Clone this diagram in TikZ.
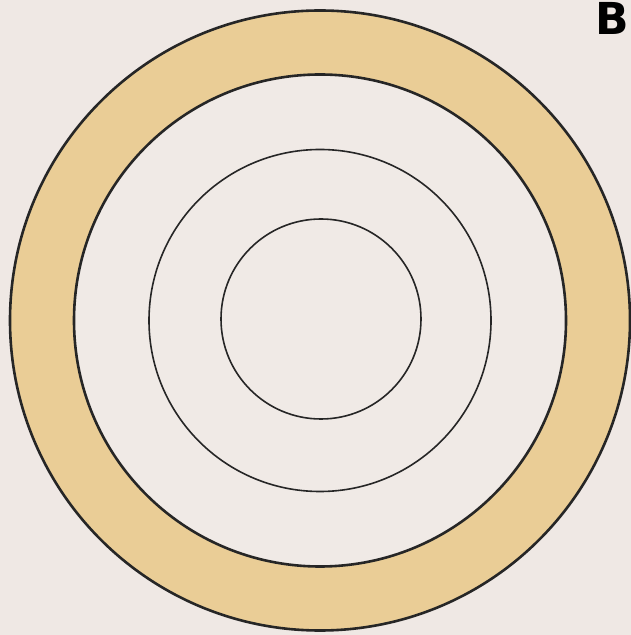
\documentclass[tikz,border=0pt]{standalone}
\usepackage{fontspec}
\setmainfont{DejaVu Sans}
\definecolor{bg}{RGB}{239,232,228}
\definecolor{tan}{RGB}{234,205,150}
\definecolor{inner}{RGB}{240,234,230}
\begin{document}
\begin{tikzpicture}[x=1pt,y=1pt,
  ring/.style={draw=black!85,line width=2.6pt},
  thin/.style={draw=black!85,line width=1.6pt}]
\fill[bg] (0,0) rectangle (631,635);
\useasboundingbox (0,0) rectangle (631,635);
\coordinate (c) at (320,314.5);
\fill[tan,ring] (c) circle[radius=310];
\fill[inner,ring] (c) circle[radius=246];
\draw[thin] (c) circle[radius=171];
\draw[thin] (321,316) circle[radius=100];
\node[font=\bfseries\fontsize{44}{44}\selectfont,anchor=north east,inner sep=0pt] (lab) at (629,633) {B};
\end{tikzpicture}
\end{document}
